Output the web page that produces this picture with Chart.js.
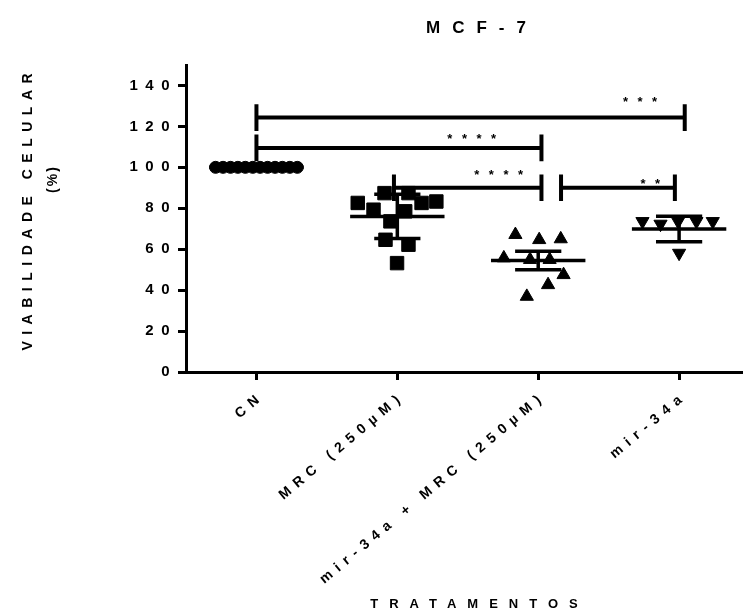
<!DOCTYPE html>
<html>
<head>
<meta charset="utf-8">
<script src="https://cdn.jsdelivr.net/npm/chart.js@4.4.1/dist/chart.umd.min.js"></script>
<style>
  html, body { margin: 0; padding: 0; background: #fff; overflow: hidden; }
  #wrap { width: 753px; height: 616px; }
</style>
</head>
<body>
<div id="wrap"><canvas id="c" width="753" height="616"></canvas></div>
<script>
// Treatment groups on the x axis
const categories = ['CN', 'MRC (250µM)', 'mir-34a + MRC (250µM)', 'mir-34a'];

// Cell viability (%) of each replicate
const cnValues    = [100, 100, 100, 100, 100, 100, 100, 100, 100, 100, 100, 100];
const mrcValues   = [82.6, 79.3, 87.4, 87.4, 78.5, 82.6, 83.3, 73.6, 64.6, 62.2, 53.2];
const comboValues = [67.1, 64.6, 65.0, 55.7, 54.9, 54.9, 47.5, 42.6, 36.9];
const mirValues   = [73.6, 72.3, 73.6, 73.6, 73.6, 58.1];

// Horizontal scatter of the replicates inside each column (category units)
const cnSpread    = [-0.29, -0.237, -0.184, -0.132, -0.079, -0.026, 0.026, 0.079, 0.132, 0.184, 0.237, 0.29];
const mrcSpread   = [-0.281, -0.169, -0.091, 0.079, 0.056, 0.172, 0.277, -0.049, -0.084, 0.079, -0.002];
const comboSpread = [-0.162, 0.007, 0.16, -0.244, -0.058, 0.081, 0.18, 0.07, -0.081];
const mirSpread   = [-0.26, -0.132, -0.007, 0.123, 0.239, 0];

// Group mean and error bar half-length
const groupMeans  = [100, 76.0, 54.5, 69.9];
const groupErrors = [0, 10.8, 4.5, 6.2];

// Y axis ticks
const yTicks = [0, 20, 40, 60, 80, 100, 120, 140];

// Significance brackets: start / end column, height (%), label
const bracketFrom   = [0, 0, 0.976, 2.162];
const bracketTo     = [3.04, 2.023, 2.023, 2.97];
const bracketHeight = [124.3, 109.5, 90.0, 90.0];
const bracketLabels = ['***', '****', '****', '**'];
// where each significance label sits (column units, % units)
const labelX = [2.723, 1.528, 1.719, 2.795];
const labelY = [133.7, 115.6, 97.9, 93.6];

const FONT = '"Liberation Sans", Arial, Helvetica, sans-serif';
const MEAN_HALF = 0.335;
const CAP_HALF = 0.164;
const BRACKET_CAP = 6.5;

const groups = [
  { values: cnValues,    spread: cnSpread,    style: 'circle',   radius: 6,   rotation: 0 },
  { values: mrcValues,   spread: mrcSpread,   style: 'rect',     radius: 9.5, rotation: 0 },
  { values: comboValues, spread: comboSpread, style: 'triangle', radius: 7.6, rotation: 0 },
  { values: mirValues,   spread: mirSpread,   style: 'triangle', radius: 7.6, rotation: 180 }
];

const datasets = [];
groups.forEach((g, i) => {
  datasets.push({
    label: categories[i],
    data: g.values.map((v, k) => ({ x: i + g.spread[k], y: v })),
    pointStyle: g.style,
    pointRadius: g.radius,
    pointHoverRadius: g.radius,
    pointRotation: g.rotation,
    backgroundColor: '#000',
    borderColor: '#000',
    borderWidth: 1,
    showLine: false,
    order: 0
  });
});

function segment(x1, y1, x2, y2, width) {
  return {
    data: [{ x: x1, y: y1 }, { x: x2, y: y2 }],
    showLine: true,
    borderColor: '#000',
    backgroundColor: '#000',
    borderWidth: width,
    pointRadius: 0,
    pointHoverRadius: 0,
    fill: false,
    order: 1
  };
}

// mean line with error bar for every group
groupMeans.forEach((m, i) => {
  const e = groupErrors[i];
  datasets.push(segment(i - MEAN_HALF, m, i + MEAN_HALF, m, 3.5));
  if (e > 0) {
    datasets.push(segment(i, m - e, i, m + e, 3.5));
    datasets.push(segment(i - CAP_HALF, m + e, i + CAP_HALF, m + e, 3.5));
    datasets.push(segment(i - CAP_HALF, m - e, i + CAP_HALF, m - e, 3.5));
  }
});

// comparison brackets
bracketFrom.forEach((a, k) => {
  const b = bracketTo[k], h = bracketHeight[k];
  datasets.push(segment(a, h, b, h, 4));
  datasets.push(segment(a, h - BRACKET_CAP, a, h + BRACKET_CAP, 4));
  datasets.push(segment(b, h - BRACKET_CAP, b, h + BRACKET_CAP, 4));
});

// tick labels with wide letter spacing; dx nudges them sideways
function spacedLabels(scale, spacing, dx) {
  const proto = Object.getPrototypeOf(scale);
  scale.drawLabels = function (area) {
    const c = this.ctx;
    c.save();
    c.letterSpacing = spacing;
    c.translate(dx, 0);
    proto.drawLabels.call(this, area);
    c.restore();
  };
}

function drawSpaced(ctx, text, x, y, font, spacing, angle) {
  ctx.save();
  ctx.font = font;
  ctx.letterSpacing = spacing + 'px';
  ctx.fillStyle = '#000';
  ctx.textAlign = 'center';
  ctx.textBaseline = 'middle';
  ctx.translate(x, y);
  if (angle) ctx.rotate(angle);
  ctx.fillText(text, spacing / 2, 0);
  ctx.restore();
}

const annotations = {
  id: 'annotations',
  afterUpdate(chart) {
    const sx = chart.scales.x, sy = chart.scales.y;
    if (!sx._spaced) { spacedLabels(sx, '6.5px', 6); sx._spaced = true; }
    if (!sy._spaced) { spacedLabels(sy, '7.5px', 0); sy._spaced = true; }
  },
  afterDraw(chart) {
    const ctx = chart.ctx;
    const sx = chart.scales.x, sy = chart.scales.y;

    // significance stars
    bracketLabels.forEach((t, k) => {
      const px = sx.getPixelForValue(labelX[k]);
      const py = sy.getPixelForValue(labelY[k]);
      ctx.save();
      ctx.font = 'bold 13px ' + FONT;
      ctx.letterSpacing = '9.5px';
      ctx.fillStyle = '#000';
      ctx.textAlign = 'center';
      ctx.textBaseline = 'alphabetic';
      ctx.fillText(t, px + 4.75, py + 7.5);
      ctx.restore();
    });

    // chart title
    drawSpaced(ctx, 'MCF-7', 476, 28, 'bold 17px ' + FONT, 12, 0);
    // y axis title, two lines
    drawSpaced(ctx, 'VIABILIDADE CELULAR', 28, 212, 'bold 14px ' + FONT, 6.5, -Math.PI / 2);
    drawSpaced(ctx, '(%)', 53, 180, 'bold 14px ' + FONT, 2, -Math.PI / 2);
    // x axis title
    drawSpaced(ctx, 'TRATAMENTOS', 474, 604, 'bold 13px ' + FONT, 11, 0);
  }
};

new Chart(document.getElementById('c'), {
  type: 'scatter',
  data: { datasets },
  options: {
    responsive: false,
    animation: false,
    devicePixelRatio: 1,
    layout: { padding: { top: 65, left: 0, right: 0, bottom: 0 } },
    plugins: {
      legend: { display: false },
      tooltip: { enabled: false },
      title: { display: false }
    },
    scales: {
      x: {
        type: 'linear',
        min: -0.5,
        max: 3.45,
        afterBuildTicks: s => { s.ticks = categories.map((_, i) => ({ value: i })); },
        afterFit: s => { s.height = 244; },
        grid: { drawOnChartArea: false, drawTicks: true, tickLength: 8, tickWidth: 3, tickColor: '#000' },
        border: { display: true, color: '#000', width: 3 },
        ticks: {
          autoSkip: false,
          minRotation: 40,
          maxRotation: 40,
          padding: 8,
          color: '#000',
          font: { family: FONT, size: 14, weight: 'bold' },
          callback: v => categories[v]
        }
      },
      y: {
        type: 'linear',
        min: 0,
        max: 150,
        afterBuildTicks: s => { s.ticks = yTicks.map(v => ({ value: v })); },
        afterFit: s => { s.width = 186; },
        grid: { drawOnChartArea: false, drawTicks: true, tickLength: 8, tickWidth: 3, tickColor: '#000' },
        border: { display: true, color: '#000', width: 3 },
        ticks: {
          padding: 1,
          color: '#000',
          font: { family: FONT, size: 15, weight: 'bold' }
        }
      }
    }
  },
  plugins: [annotations]
});
</script>
</body>
</html>
